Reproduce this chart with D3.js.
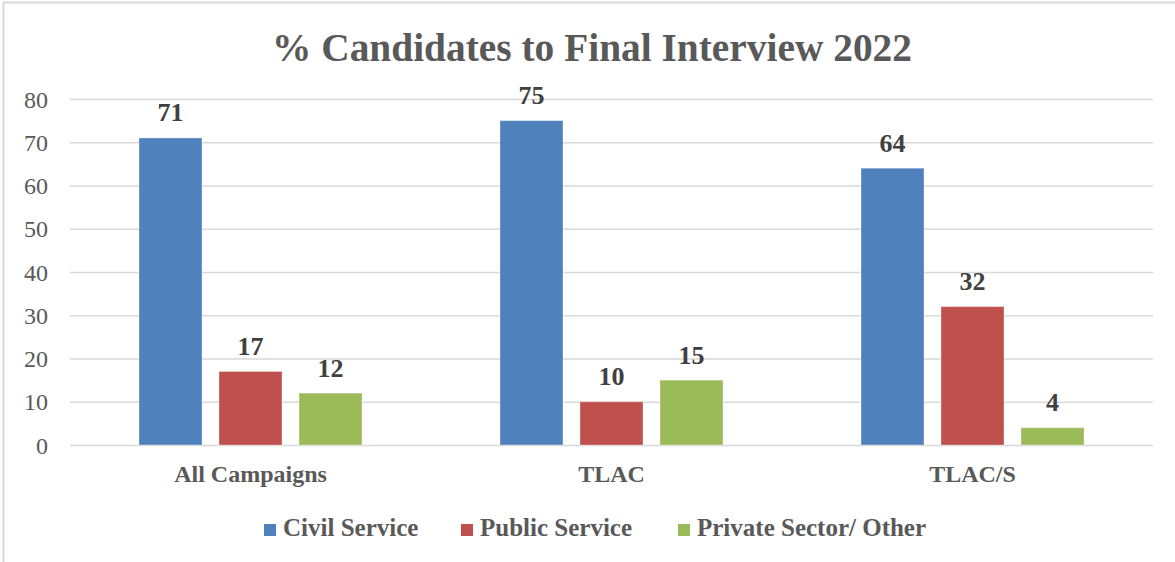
<!DOCTYPE html>
<html>
<head>
<meta charset="utf-8">
<script src="https://cdn.jsdelivr.net/npm/d3@7"></script>
<style>
  html, body { margin: 0; padding: 0; background: #fff; }
  svg { display: block; }
</style>
</head>
<body>
<svg id="chart" width="1175" height="562"></svg>
<script>
// Share of candidates reaching final interview, by background (2022)
const categories = ["All Campaigns", "TLAC", "TLAC/S"];
const seriesNames = ["Civil Service", "Public Service", "Private Sector/ Other"];
const civilService = [71, 75, 64];
const publicService = [17, 10, 32];
const privateSector = [12, 15, 4];
const yTicks = [0, 10, 20, 30, 40, 50, 60, 70, 80];
const seriesColors = ["#4F81BD", "#C0504D", "#9BBB59"];

const seriesValues = [civilService, publicService, privateSector];
const rows = categories.map((c, i) => ({
  category: c,
  values: seriesNames.map((s, j) => ({ series: s, value: seriesValues[j][i], color: seriesColors[j] }))
}));

const svg = d3.select("#chart");
const W = 1175, H = 562;
const serif = "'Liberation Serif', 'DejaVu Serif', serif";

// outer chart frame
svg.append("rect")
  .attr("x", 3.5).attr("y", 2.5)
  .attr("width", W + 10).attr("height", H + 10)
  .attr("fill", "#fff")
  .attr("stroke", "#d9d9d9").attr("stroke-width", 2);

const plot = { left: 70, right: 1153, top: 99, bottom: 445 };

const x0 = d3.scaleBand().domain(categories).range([plot.left, plot.right]).padding(0);
const groupWidth = 223;
const x1 = d3.scaleBand().domain(seriesNames).range([0, groupWidth]).paddingInner(0.2125).paddingOuter(0);
const y = d3.scaleLinear().domain([0, 80]).range([plot.bottom, plot.top]);

// title
svg.append("text")
  .attr("x", 592).attr("y", 61)
  .attr("text-anchor", "middle")
  .attr("font-family", serif).attr("font-weight", "bold")
  .attr("font-size", 39).attr("fill", "#595959")
  .attr("textLength", 640).attr("lengthAdjust", "spacingAndGlyphs")
  .text("% Candidates to Final Interview 2022");

// horizontal gridlines
const yAxis = d3.axisLeft(y).tickValues(yTicks).tickSize(-(plot.right - plot.left)).tickPadding(22);
const gy = svg.append("g").attr("transform", `translate(${plot.left},0)`).call(yAxis);
gy.select(".domain").remove();
gy.selectAll(".tick line").attr("stroke", "#d9d9d9").attr("stroke-width", 1.6);
gy.selectAll(".tick text")
  .attr("font-family", serif).attr("font-size", 24).attr("fill", "#595959")
  .attr("dy", "0.34em");

// category axis labels
const xAxis = d3.axisBottom(x0).tickSize(0).tickPadding(0);
const gx = svg.append("g").attr("transform", `translate(0,${plot.bottom})`).call(xAxis);
gx.select(".domain").remove();
gx.selectAll(".tick text")
  .attr("font-family", serif).attr("font-weight", "bold")
  .attr("font-size", 24).attr("fill", "#595959")
  .attr("dy", 0).attr("y", 37);

// bars
const offset = (x0.bandwidth() - groupWidth) / 2;
const groups = svg.append("g").selectAll("g")
  .data(rows).join("g")
  .attr("transform", d => `translate(${x0(d.category) + offset},0)`);

groups.selectAll("rect")
  .data(d => d.values).join("rect")
  .attr("x", d => x1(d.series))
  .attr("y", d => y(d.value))
  .attr("width", x1.bandwidth())
  .attr("height", d => y(0) - y(d.value))
  .attr("fill", d => d.color)
  .attr("stroke", "rgba(255,255,255,0.35)").attr("stroke-width", 1);

// value labels
groups.selectAll("text")
  .data(d => d.values).join("text")
  .attr("x", d => x1(d.series) + x1.bandwidth() / 2)
  .attr("y", d => y(d.value) - 16.5)
  .attr("text-anchor", "middle")
  .attr("font-family", serif).attr("font-weight", "bold")
  .attr("font-size", 26).attr("fill", "#404040")
  .text(d => d.value);

// legend
const legendX = [264, 461, 678];
const legend = svg.append("g").selectAll("g")
  .data(seriesNames).join("g")
  .attr("transform", (d, i) => `translate(${legendX[i]},524)`);
legend.append("rect")
  .attr("width", 12).attr("height", 12)
  .attr("fill", (d, i) => seriesColors[i]);
legend.append("text")
  .attr("x", 19).attr("y", 12)
  .attr("font-family", serif).attr("font-weight", "bold")
  .attr("font-size", 25).attr("fill", "#595959")
  .text(d => d);
</script>
</body>
</html>
